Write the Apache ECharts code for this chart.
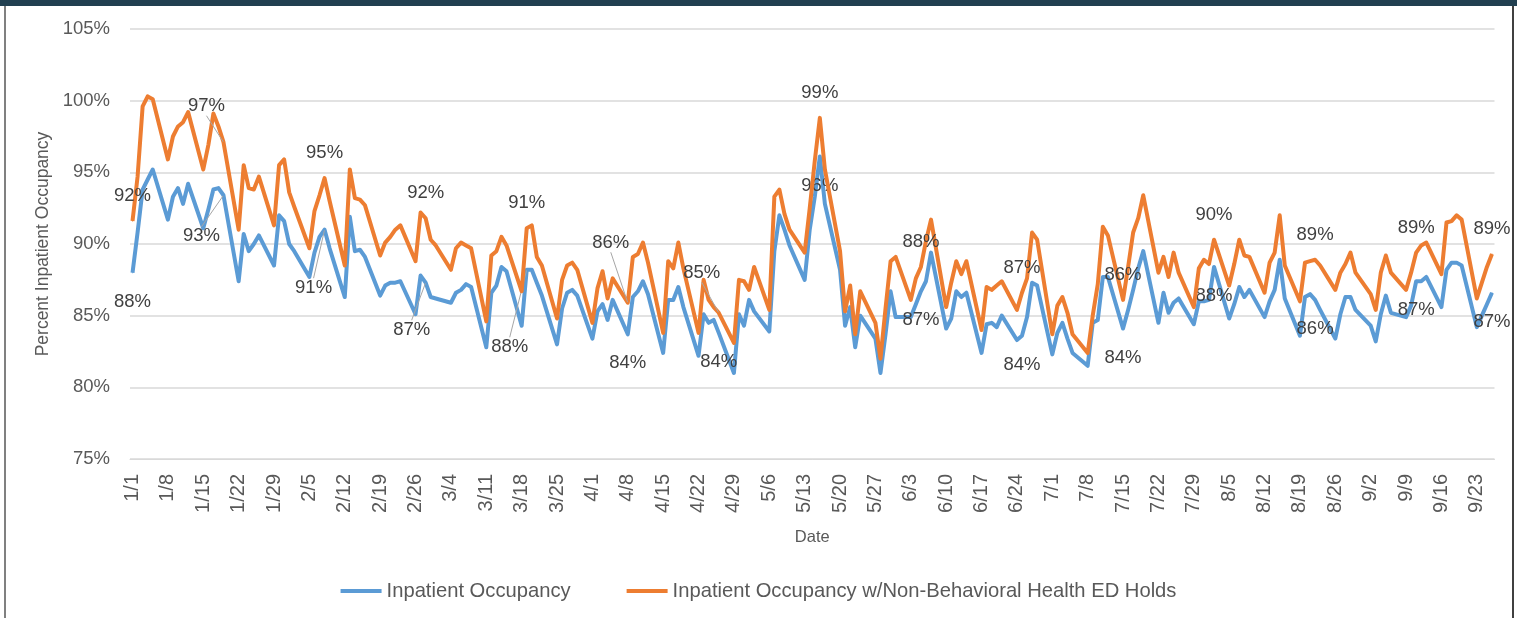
<!DOCTYPE html>
<html>
<head>
<meta charset="utf-8">
<script src="https://cdn.jsdelivr.net/npm/echarts@6/dist/echarts.min.js"></script>
<style>
html,body{margin:0;padding:0;background:#fff;}
#chart{width:1517px;height:618px;}
</style>
</head>
<body>
<div id="chart"></div>
<script>
// Weekday data, 1/1 (Mon) through 9/26 (Thu) of a leap year; weekends have no data
const startDate = [2024, 0, 1];
const dayCount = 270;

// Inpatient Occupancy (%), one value per weekday
const occupancy = [
  88.0, 90.8, 93.8, 94.5, 95.2,
  91.7, 93.3, 93.9, 92.8, 94.2,
  91.1, 92.4, 93.8, 93.9, 93.4,
  87.4, 90.7, 89.5, 90.0, 90.6,
  88.5, 92.0, 91.6, 90.0, 89.5,
  87.7, 89.4, 90.5, 91.0, 89.7,
  86.3, 91.9, 89.5, 89.6, 89.1,
  86.4, 87.1, 87.3, 87.3, 87.4,
  85.1, 87.8, 87.3, 86.3, 86.2,
  85.9, 86.6, 86.8, 87.2, 87.0,
  82.8, 86.6, 87.1, 88.4, 88.1,
  84.3, 88.2, 88.2, 87.3, 86.4,
  83.0, 85.5, 86.6, 86.8, 86.4,
  83.4, 85.3, 85.8, 84.7, 86.1,
  83.7, 86.3, 86.7, 87.4, 86.5,
  82.4, 86.1, 86.1, 87.0, 85.6,
  82.2, 85.1, 84.5, 84.7, 83.8,
  81.0, 85.1, 84.3, 86.1, 85.3,
  83.9, 89.5, 92.0, 91.0, 89.9,
  87.5, 91.0, 93.3, 96.1, 92.8,
  88.2, 84.3, 85.6, 82.8, 85.0,
  83.4, 81.0, 83.7, 86.7, 84.9,
  84.9, 85.8, 86.7, 87.4, 89.4,
  84.1, 84.8, 86.7, 86.3, 86.6,
  82.4, 84.4, 84.5, 84.2, 85.0,
  83.3, 83.6, 84.9, 87.3, 87.1,
  82.3, 83.8, 84.5, 83.4, 82.4,
  81.5, 84.5, 84.7, 87.7, 87.7,
  84.1, 85.4, 86.8, 88.3, 89.5,
  84.5, 86.6, 85.2, 85.9, 86.2,
  84.4, 86.0, 86.0, 86.1, 88.4,
  84.8, 85.8, 87.0, 86.3, 86.8,
  84.9, 86.0, 86.8, 88.9, 86.2,
  83.6, 86.3, 86.5, 86.1, 85.4,
  83.4, 85.1, 86.3, 86.3, 85.4,
  84.3, 83.2, 85.1, 86.4, 85.2,
  84.9, 85.7, 87.4, 87.4, 87.7,
  85.6, 88.2, 88.7, 88.7, 88.5,
  84.2, 85.0, 85.8, 86.6
];

// Inpatient Occupancy w/Non-Behavioral Health ED Holds (%), one value per weekday
const occupancyWithHolds = [
  91.6, 94.7, 99.6, 100.3, 100.1,
  95.9, 97.5, 98.2, 98.5, 99.2,
  95.2, 96.9, 99.1, 98.2, 97.1,
  91.0, 95.5, 93.9, 93.8, 94.7,
  91.3, 95.5, 95.9, 93.6, 92.6,
  89.7, 92.3, 93.4, 94.6, 93.0,
  88.5, 95.2, 93.2, 93.1, 92.7,
  89.2, 90.1, 90.5, 91.0, 91.3,
  88.8, 92.2, 91.8, 90.3, 89.9,
  88.2, 89.7, 90.1, 89.9, 89.7,
  84.6, 89.2, 89.5, 90.5, 89.9,
  86.7, 91.1, 91.3, 89.1, 88.5,
  84.8, 87.5, 88.5, 88.7, 88.2,
  84.5, 86.9, 88.1, 86.2, 87.6,
  85.9, 89.1, 89.3, 90.1, 88.7,
  83.8, 88.8, 88.3, 90.1, 88.3,
  83.8, 87.5, 86.1, 85.6, 85.2,
  83.1, 87.5, 87.4, 86.8, 88.4,
  85.4, 93.3, 93.8, 92.1, 91.0,
  89.4, 92.5, 95.8, 98.8, 95.2,
  89.5, 85.3, 87.1, 83.7, 86.7,
  84.5, 82.0, 85.5, 88.8, 89.1,
  86.1, 87.6, 88.4, 90.2, 91.7,
  85.6, 87.3, 88.8, 87.9, 88.8,
  84.0, 87.0, 86.8, 87.1, 87.4,
  85.4, 86.6, 87.6, 90.8, 90.3,
  83.7, 85.7, 86.3, 85.2, 83.7,
  82.4, 85.0, 87.2, 91.2, 90.6,
  86.1, 88.4, 90.8, 91.8, 93.4,
  88.0, 89.1, 87.7, 89.4, 88.0,
  85.6, 88.3, 88.9, 88.6, 90.3,
  87.1, 88.6, 90.3, 89.2, 89.1,
  86.6, 88.7, 89.4, 92.0, 88.5,
  86.0, 88.7, 88.8, 88.9, 88.5,
  86.8, 88.0, 88.6, 89.4, 88.0,
  86.5, 85.4, 88.0, 89.2, 88.0,
  86.8, 88.0, 89.4, 89.9, 90.1,
  87.9, 91.5, 91.6, 92.0, 91.7,
  86.2, 87.3, 88.4, 89.3
];

// weekday indices that carry a data label
const labeledPoints = [0, 14, 28, 42, 56, 70, 84, 98, 112, 126, 140, 154, 168, 182, 193];

// label offsets (layout, px) relative to the point
const holdsLabelOffset = { 14: [-17, -36], 70: [-17, -60], 84: [-17, -40] };
const occLabelOffset = { 14: [-22, 41], 28: [-11, 58], 42: [-14, 47], 56: [-17, 77] };
const holdsDefaultOffset = [0, -25];
const occDefaultOffset = [0, 29];

// Build category axis (every calendar day) and map weekday values onto it
const categories = [];
const weekdayPos = [];
for (let i = 0; i < dayCount; i++) {
  const dt = new Date(startDate[0], startDate[1], startDate[2] + i);
  categories.push((dt.getMonth() + 1) + '/' + dt.getDate());
  const wd = dt.getDay();
  if (wd !== 0 && wd !== 6) weekdayPos.push(i);
}

function buildSeriesData(values, offsets) {
  const out = new Array(dayCount).fill(null);
  values.forEach(function (v, k) {
    const isLab = labeledPoints.indexOf(k) >= 0;
    if (isLab) {
      out[weekdayPos[k]] = {
        value: v,
        label: { show: true },
        labelLine: { show: !!offsets[k] }
      };
    } else {
      out[weekdayPos[k]] = { value: v, symbol: 'none' };
    }
  });
  return out;
}

const dataOcc = buildSeriesData(occupancy, occLabelOffset);
const dataHolds = buildSeriesData(occupancyWithHolds, holdsLabelOffset);
const dayToWeekday = {};
weekdayPos.forEach(function (d, k) { dayToWeekday[d] = k; });

function makeLayout(offsets, def) {
  return function (p) {
    const k = dayToWeekday[p.dataIndex];
    const o = offsets[k] || def;
    return {
      x: p.rect.x + p.rect.width / 2 + o[0],
      y: p.rect.y + p.rect.height / 2 + o[1],
      align: 'center',
      verticalAlign: 'middle'
    };
  };
}

const FONT = 'Liberation Sans, Arial, sans-serif';
const chart = echarts.init(document.getElementById('chart'), null, { renderer: 'canvas' });

chart.setOption({
  animation: false,
  backgroundColor: '#ffffff',
  grid: { left: 130, right: 22.5, top: 29, bottom: 159, containLabel: false },
  legend: {
    bottom: 12,
    left: 'center',
    icon: 'rect',
    itemWidth: 41,
    itemHeight: 4,
    itemGap: 56,
    textStyle: { fontFamily: FONT, fontSize: 20.2, color: '#595959' },
    data: ['Inpatient Occupancy', 'Inpatient Occupancy w/Non-Behavioral Health ED Holds']
  },
  xAxis: {
    type: 'category',
    data: categories,
    boundaryGap: true,
    name: 'Date',
    nameLocation: 'middle',
    nameGap: 70,
    nameTextStyle: { fontFamily: FONT, fontSize: 16.5, color: '#595959' },
    axisLine: { show: true, lineStyle: { color: '#D9D9D9', width: 1 } },
    axisTick: { show: false },
    axisLabel: {
      interval: 6,
      rotate: 90,
      margin: 15,
      padding: [9, 0, 0, 0],
      fontFamily: FONT,
      fontSize: 20,
      color: '#595959'
    },
    splitLine: { show: false }
  },
  yAxis: {
    type: 'value',
    min: 75,
    max: 105,
    interval: 5,
    name: 'Percent Inpatient Occupancy',
    nameLocation: 'middle',
    nameGap: 73,
    nameTextStyle: { fontFamily: FONT, fontSize: 17.5, color: '#595959' },
    axisLine: { show: false },
    axisTick: { show: false },
    axisLabel: {
      formatter: '{value}%',
      margin: 20,
      fontFamily: FONT,
      fontSize: 18.5,
      color: '#595959'
    },
    splitLine: { show: true, lineStyle: { color: '#D9D9D9', width: 1.5 } }
  },
  series: [
    {
      name: 'Inpatient Occupancy',
      type: 'line',
      data: dataOcc,
      connectNulls: true,
      showSymbol: true,
      symbol: 'circle',
      symbolSize: 1,
      z: 3,
      itemStyle: { color: '#5B9BD5' },
      lineStyle: { color: '#5B9BD5', width: 4, join: 'round' },
      label: {
        show: false,
        fontFamily: FONT,
        fontSize: 18.5,
        color: '#404040',
        formatter: function (p) { return Math.round(p.value) + '%'; }
      },
      labelLine: { show: false, lineStyle: { color: '#A6A6A6', width: 1 } },
      labelLayout: makeLayout(occLabelOffset, occDefaultOffset),
      emphasis: { disabled: true }
    },
    {
      name: 'Inpatient Occupancy w/Non-Behavioral Health ED Holds',
      type: 'line',
      data: dataHolds,
      connectNulls: true,
      showSymbol: true,
      symbol: 'circle',
      symbolSize: 1,
      z: 4,
      itemStyle: { color: '#ED7D31' },
      lineStyle: { color: '#ED7D31', width: 4, join: 'round' },
      label: {
        show: false,
        fontFamily: FONT,
        fontSize: 18.5,
        color: '#404040',
        formatter: function (p) { return Math.round(p.value) + '%'; }
      },
      labelLine: { show: false, lineStyle: { color: '#A6A6A6', width: 1 } },
      labelLayout: makeLayout(holdsLabelOffset, holdsDefaultOffset),
      emphasis: { disabled: true }
    }
  ],
  graphic: [
    { type: 'rect', left: 0, top: 0, shape: { width: 1517, height: 6 }, style: { fill: '#213F50' }, silent: true },
    { type: 'rect', left: 4, top: 6, shape: { width: 2, height: 612 }, style: { fill: '#808080' }, silent: true },
    { type: 'rect', left: 1512, top: 6, shape: { width: 2, height: 612 }, style: { fill: '#404040' }, silent: true }
  ]
});
</script>
</body>
</html>
